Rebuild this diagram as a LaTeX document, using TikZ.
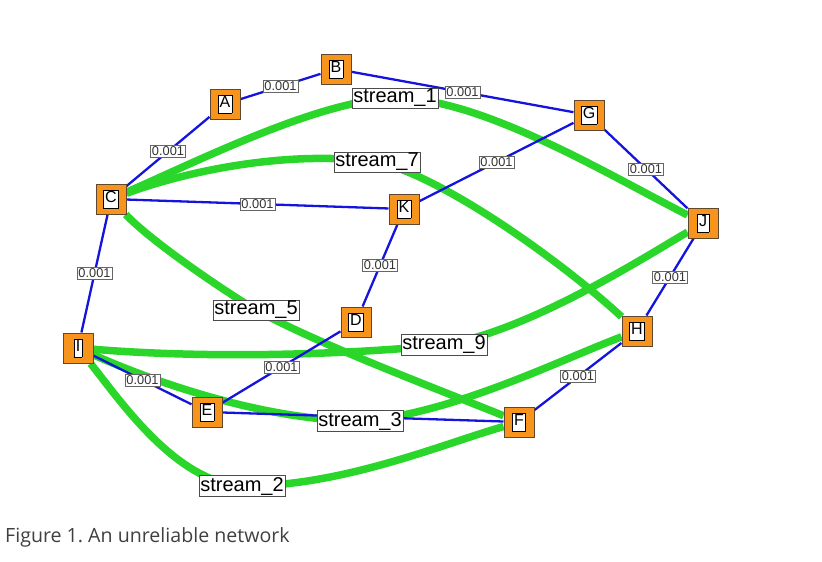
\documentclass[tikz,border=0pt]{standalone}
\usepackage{fontspec}
\setmainfont{Liberation Sans}
\newfontfamily\captionfont{Open Sans}
\usetikzlibrary{backgrounds}
\frenchspacing

\definecolor{hostorange}{RGB}{247,148,30}
\definecolor{hostrim}{RGB}{96,72,48}
\definecolor{linkblue}{RGB}{20,20,220}
\definecolor{flowgreen}{RGB}{42,214,42}
\newcommand{\hostname}[1]{{\setlength{\fboxsep}{1.5pt}\setlength{\fboxrule}{0.6pt}\fcolorbox{black}{white}{\vphantom{Bg}#1}}}

\begin{document}
\begin{tikzpicture}[x=1pt, y=-1pt,
            host/.style={draw=hostrim, line width=1pt, fill=hostorange, minimum size=30pt, inner sep=0pt, font=\fontsize{16}{16}\selectfont}, % orange router boxes
            link/.style={draw=linkblue, line width=2.3pt}, % blue links
            weight/.style={fill=white, draw=black!60, line width=0.6pt, inner sep=1.5pt, text=black!80, font=\fontsize{12.8}{12.8}\selectfont},
            flow/.style={draw=flowgreen, line width=7.5pt}, % green streams
            flowname/.style={fill=white, draw=black!70, line width=0.7pt, inner sep=1.2pt, font=\fontsize{20}{20}\selectfont},
        ]
        \useasboundingbox (0,0) rectangle (822,562);

        \node (A) [host] at (225,104) {\hostname{A}};
        \node (B) [host] at (336,69)  {\hostname{B}};
        \node (C) [host] at (111,199) {\hostname{C}};
        \node (G) [host] at (589,115) {\hostname{G}};
        \node (K) [host] at (404,209) {\hostname{K}};
        \node (J) [host] at (703,223) {\hostname{J}};
        \node (D) [host] at (356,322) {\hostname{D}};
        \node (I) [host] at (78,348)  {\hostname{I}};
        \node (H) [host] at (637,331) {\hostname{H}};
        \node (E) [host] at (207,412) {\hostname{E}};
        \node (F) [host] at (519,422) {\hostname{F}};

        \node (s1) [flowname] at (395,98)  {stream\_1};
        \node (s7) [flowname] at (377,162) {stream\_7};
        \node (s5) [flowname] at (256,310) {stream\_5};
        \node (s9) [flowname] at (444,345) {stream\_9};
        \node (s3) [flowname] at (360,421) {stream\_3};
        \node (s2) [flowname] at (242,486) {stream\_2};

        \node (caption) [anchor=base west, inner sep=0pt, text=black!75, font=\captionfont\fontsize{19.6}{19.6}\selectfont] at (5,542) {Figure 1. An unreliable network};

        \begin{pgfonlayer}{background}
        % streams
        \draw[flow] (C) .. controls (200,160) and (320,100) .. (s1.center) .. controls (480,98) and (600,170) .. (J);
        \draw[flow] (C) .. controls (190,170) and (290,150) .. (s7.center) .. controls (440,175) and (560,260) .. (H);
        \draw[flow] (C) .. controls (150,240) and (215,285) .. (s5.center) .. controls (320,345) and (440,390) .. (F);
        \draw[flow] (I) .. controls (200,358) and (330,356) .. (s9.center) .. controls (530,330) and (640,260) .. (J);
        \draw[flow] (I) .. controls (150,380) and (260,420) .. (s3.center) .. controls (450,415) and (560,360) .. (H);
        \draw[flow] (I) .. controls (120,400) and (175,482) .. (s2.center) .. controls (340,487) and (440,445) .. (F);

        % links
        \draw[link]
        (C) edge node[weight]{0.001} (A)
        (A) edge node[weight]{0.001} (B)
        (B) edge node[weight]{0.001} (G)
        (C) edge node[weight]{0.001} (K)
        (C) edge node[weight]{0.001} (I)
        (G) edge node[weight]{0.001} (K)
        (G) edge node[weight]{0.001} (J)
        (J) edge node[weight]{0.001} (H)
        (K) edge node[weight]{0.001} (D)
        (D) edge node[weight]{0.001} (E)
        (I) edge node[weight]{0.001} (E)
        (H) edge node[weight]{0.001} (F)
        (E) edge (F);
        \end{pgfonlayer}
    \end{tikzpicture}
\end{document}
